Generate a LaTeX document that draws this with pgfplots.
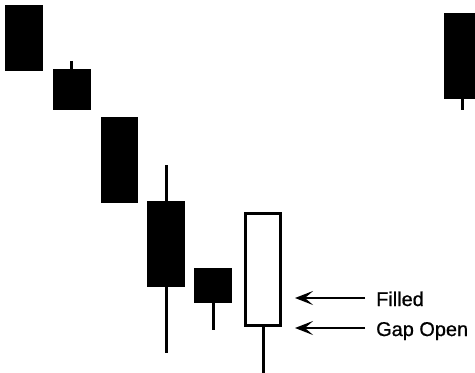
\documentclass[border=0pt]{standalone}
\usepackage{fontspec}
\setmainfont{Liberation Sans}
\usepackage{pgfplots}
\pgfplotsset{compat=1.18}
\usetikzlibrary{arrows.meta}
\begin{document}
\begin{tikzpicture}
\useasboundingbox (0,0) rectangle (475bp,373bp);
\clip (0,0) rectangle (475bp,373bp);
\begin{axis}[at={(0,0)}, anchor=south west, width=475bp, height=373bp,
  scale only axis, hide axis, xmin=0, xmax=475, ymin=0, ymax=373,
  y dir=reverse, clip=false]
% wicks
\addplot[line width=3bp, line cap=butt] coordinates {(71.5,61) (71.5,70)};
\addplot[line width=3bp, line cap=butt] coordinates {(166,165) (166,353)};
\addplot[line width=3bp, line cap=butt] coordinates {(213,300) (213,330)};
\addplot[line width=3bp, line cap=butt] coordinates {(263,325) (263,375)};
\addplot[line width=3bp, line cap=butt] coordinates {(462,95) (462,110)};
% filled bodies
\addplot[fill=black, draw=none] coordinates {(5,5) (43,5) (43,71) (5,71)} -- cycle;
\addplot[fill=black, draw=none] coordinates {(53,69) (91,69) (91,110) (53,110)} -- cycle;
\addplot[fill=black, draw=none] coordinates {(101,117) (138,117) (138,203) (101,203)} -- cycle;
\addplot[fill=black, draw=none] coordinates {(147,201) (185,201) (185,287) (147,287)} -- cycle;
\addplot[fill=black, draw=none] coordinates {(194,268) (232,268) (232,303) (194,303)} -- cycle;
\addplot[fill=black, draw=none] coordinates {(444,13) (482,13) (482,99) (444,99)} -- cycle;
% hollow body
\addplot[draw=black, line width=3bp, fill=white] coordinates {(245.5,213.5) (280.5,213.5) (280.5,325.5) (245.5,325.5)} -- cycle;
% arrows
\addplot[line width=2.5bp, -{Stealth[length=18bp, width=14bp, inset=8bp]}] coordinates {(365,298) (295,298)};
\addplot[line width=2.5bp, -{Stealth[length=18bp, width=14bp, inset=8bp]}] coordinates {(365,328) (295,328)};
\node[anchor=base west, inner sep=0pt, font=\fontsize{20}{22}\selectfont\addfontfeature{FakeBold=0.8}] at (axis cs:376,306) {Filled};
\node[anchor=base west, inner sep=0pt, font=\fontsize{20}{22}\selectfont\addfontfeature{FakeBold=0.8}] at (axis cs:376,336) {Gap Open};
\end{axis}
\end{tikzpicture}
\end{document}
